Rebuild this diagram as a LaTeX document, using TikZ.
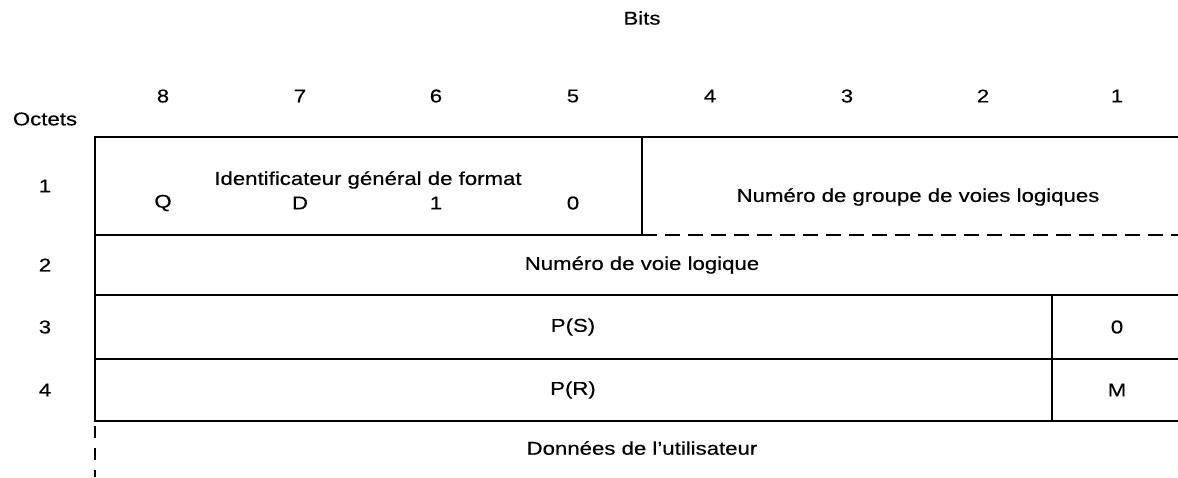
\documentclass[tikz,border=0pt]{standalone}
\usepackage{fontspec}
\setmainfont{Liberation Sans}[FakeStretch=1.2,FakeBold=0.4]
\begin{document}
\begin{tikzpicture}[x=1pt,y=-1pt,
  lbl/.style={inner sep=0pt,anchor=center,font=\fontsize{18.5}{20}\selectfont},
  rule/.style={line width=1.6pt},
  dashrule/.style={line width=1.6pt,dash pattern=on 15pt off 8pt}]
\useasboundingbox (0,0) rectangle (1178,477);
% header
\node[lbl] (bits) at (642,18) {Bits};
\node[lbl] (octets) at (45,119) {Octets};
\foreach \b/\x in {8/163,7/300,6/436,5/573,4/710,3/847,2/983,1/1117}
  \node[lbl] (b\b) at (\x,96) {\b};
% row numbers
\node[lbl] (r1) at (45,186) {1};
\node[lbl] (r2) at (45,265) {2};
\node[lbl] (r3) at (45,327) {3};
\node[lbl] (r4) at (45,390) {4};
% grid
\draw[rule] (1178,137) -- (95,137) -- (95,421) -- (1178,421);
\draw[rule] (95,235) -- (642,235);
\draw[dashrule] (642,235) -- (1178,235);
\draw[rule] (95,295) -- (1178,295);
\draw[rule] (95,359) -- (1178,359);
\draw[rule] (642,137) -- (642,235);
\draw[rule] (1052,295) -- (1052,421);
\draw[dashrule,dash pattern=on 12pt off 10pt] (95,426) -- (95,477);
% contents
\node[lbl] (gfi) at (368,180) {Identificateur général de format};
\node[lbl] (q) at (163,203) {Q};
\node[lbl] (d) at (300,203) {D};
\node[lbl] (one) at (436,203) {1};
\node[lbl] (zero) at (573,203) {0};
\node[lbl] (lcgn) at (918,197) {Numéro de groupe de voies logiques};
\node[lbl] (lcn) at (642,265) {Numéro de voie logique};
\node[lbl] (ps) at (573,327) {P(S)};
\node[lbl] (pr) at (573,390) {P(R)};
\node[lbl] (b0) at (1117,327) {0};
\node[lbl] (m) at (1117,390) {M};
\node[lbl] (ud) at (642,448) {Données de l'utilisateur};
\end{tikzpicture}
\end{document}
